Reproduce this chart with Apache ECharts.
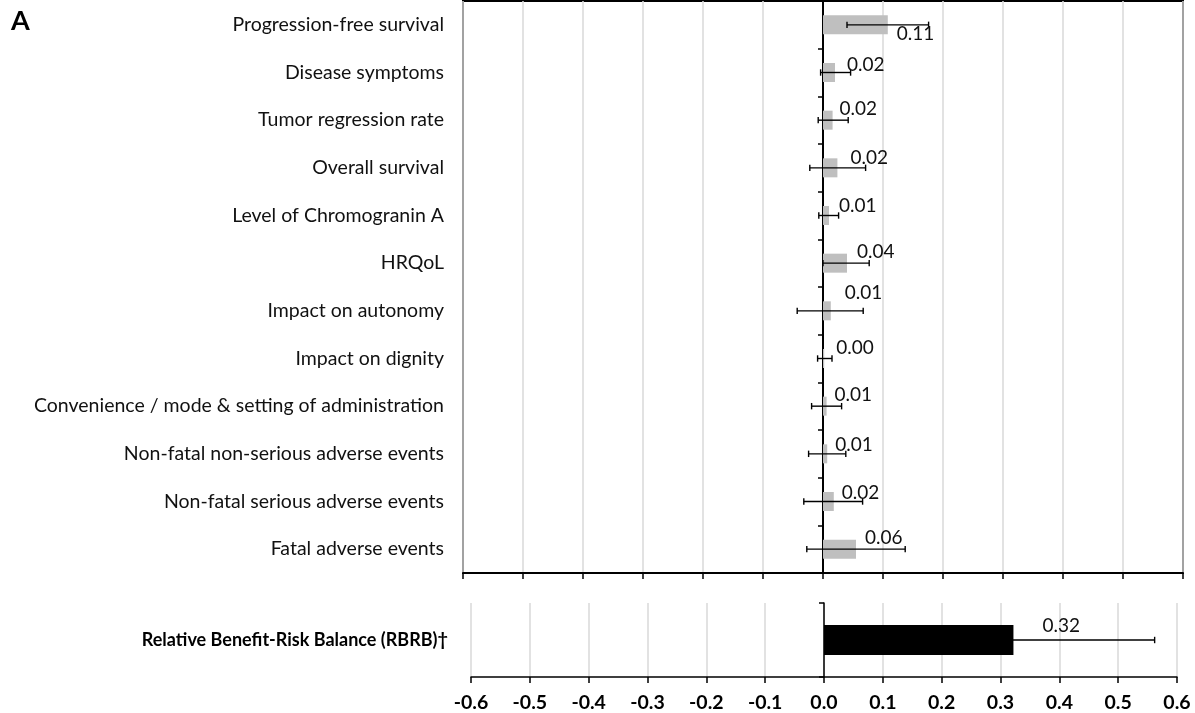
<!DOCTYPE html>
<html>
<head>
<meta charset="utf-8">
<script src="https://cdn.jsdelivr.net/npm/echarts@6/dist/echarts.min.js"></script>
<style>
html,body{margin:0;padding:0;background:#fff;}
#chart{width:1195px;height:713px;}
</style>
</head>
<body>
<div id="chart"></div>
<script>
// ---- data ----
var categories = [
  'Progression-free survival',
  'Disease symptoms',
  'Tumor regression rate',
  'Overall survival',
  'Level of Chromogranin A',
  'HRQoL',
  'Impact on autonomy',
  'Impact on dignity',
  'Convenience / mode & setting of administration',
  'Non-fatal non-serious adverse events',
  'Non-fatal serious adverse events',
  'Fatal adverse events'
];
var barValues = [0.108, 0.020, 0.016, 0.024, 0.010, 0.040, 0.013, 0.002, 0.006, 0.007, 0.018, 0.055];
var errLow    = [0.040, -0.004, -0.008, -0.022, -0.007, 0.000, -0.043, -0.009, -0.019, -0.024, -0.032, -0.027];
var errHigh   = [0.176, 0.046, 0.042, 0.071, 0.026, 0.077, 0.067, 0.015, 0.031, 0.038, 0.066, 0.137];
var valueLabels = ['0.11','0.02','0.02','0.02','0.01','0.04','0.01','0.00','0.01','0.01','0.02','0.06'];

var rbrbCategory = ['Relative Benefit-Risk Balance (RBRB)\u2020'];
var rbrbValue = [0.322];
var rbrbLow = [0.080];
var rbrbHigh = [0.562];
var rbrbLabel = ['0.32'];

var xMin = -0.6, xMax = 0.6, xStep = 0.1;

// ---- layout nudges for value labels (pixels, relative to bar end / bar centre) ----
var labelDx = [9, 12, 7, 13, 10, 10, 14, 12, 8, 8, 8, 9];
var labelDy = [9, -8, -11, -10, -10, -11, -18, -11, -11, -9, -9, -11];
var rbrbLabelDx = 29, rbrbLabelDy = -14;

var FONT = 'Lato';

function errorBarRender(params, api) {
  var y = api.value(2);
  var p1 = api.coord([api.value(0), y]);
  var p2 = api.coord([api.value(1), y]);
  var cap = 3.2;
  var st = {stroke: '#000', lineWidth: 1.4};
  return {
    type: 'group',
    children: [
      {type: 'line', shape: {x1: p1[0], y1: p1[1], x2: p2[0], y2: p2[1]}, style: st},
      {type: 'line', shape: {x1: p1[0], y1: p1[1] - cap, x2: p1[0], y2: p1[1] + cap}, style: st},
      {type: 'line', shape: {x1: p2[0], y1: p2[1] - cap, x2: p2[0], y2: p2[1] + cap}, style: st}
    ]
  };
}

var chart = echarts.init(document.getElementById('chart'), null, {renderer: 'canvas'});

var option = {
  animation: false,
  backgroundColor: '#fff',
  textStyle: {fontFamily: FONT},
  graphic: [{
    type: 'text', left: 11, top: 8,
    style: {text: 'A', font: 'bold 27px ' + FONT, fill: '#000'}
  }],
  grid: [
    {left: 463, right: 12, top: 1, bottom: 140, show: true, borderColor: '#000', borderWidth: 2, backgroundColor: 'rgba(0,0,0,0)'},
    {left: 471, right: 18, top: 603, bottom: 35}
  ],
  xAxis: [
    {
      gridIndex: 0, type: 'value', min: xMin, max: xMax, interval: xStep,
      axisLabel: {show: false},
      axisTick: {show: true, length: 6, lineStyle: {color: '#000', width: 1.5}},
      axisLine: {show: true, onZero: false, lineStyle: {color: '#000', width: 2}},
      splitLine: {show: true, lineStyle: {color: '#d9d9d9', width: 1.5}}
    },
    {
      gridIndex: 1, type: 'value', min: xMin, max: xMax, interval: xStep,
      axisLabel: {show: true, formatter: function (v) { return v.toFixed(1); }, fontWeight: 'bold', fontSize: 19.5, color: '#000', margin: 16, fontFamily: FONT},
      axisTick: {show: true, length: 6, lineStyle: {color: '#000', width: 1.5}},
      axisLine: {show: true, onZero: false, lineStyle: {color: '#000', width: 1.5}},
      splitLine: {show: true, lineStyle: {color: '#d9d9d9', width: 1.5}}
    }
  ],
  yAxis: [
    {
      gridIndex: 0, type: 'category', data: categories, inverse: true, position: 'left',
      axisLine: {show: false, onZero: false}, axisTick: {show: false}, splitLine: {show: false},
      axisLabel: {fontSize: 19.5, color: '#111', margin: 19, fontFamily: FONT}
    },
    {
      gridIndex: 0, type: 'category', data: categories, inverse: true, position: 'left',
      axisLine: {show: true, onZero: true, lineStyle: {color: '#000', width: 2}},
      axisTick: {show: true, length: 5, lineStyle: {color: '#000', width: 1.5}},
      axisLabel: {show: false}, splitLine: {show: false}
    },
    {
      gridIndex: 1, type: 'category', data: rbrbCategory, inverse: true, position: 'left',
      axisLine: {show: false, onZero: false}, axisTick: {show: false}, splitLine: {show: false},
      axisLabel: {fontSize: 18, fontWeight: 'bold', color: '#000', margin: 23, fontFamily: FONT}
    },
    {
      gridIndex: 1, type: 'category', data: rbrbCategory, inverse: true, position: 'left',
      axisLine: {show: true, onZero: true, lineStyle: {color: '#000', width: 1.5}},
      axisTick: {show: true, length: 5, lineStyle: {color: '#000', width: 1.5}},
      axisLabel: {show: false}, splitLine: {show: false}
    }
  ],
  series: [
    {
      type: 'bar', xAxisIndex: 0, yAxisIndex: 0, barWidth: 19, z: 2,
      itemStyle: {color: '#bfbfbf'},
      data: barValues
    },
    {
      type: 'custom', xAxisIndex: 0, yAxisIndex: 0, z: 4,
      renderItem: errorBarRender,
      encode: {x: [0, 1], y: 2},
      data: categories.map(function (c, i) { return [errLow[i], errHigh[i], i]; })
    },
    {
      type: 'custom', xAxisIndex: 0, yAxisIndex: 0, z: 5,
      renderItem: function (params, api) {
        var i = params.dataIndex;
        var p = api.coord([api.value(0), api.value(1)]);
        return {
          type: 'text',
          style: {
            x: p[0] + labelDx[i], y: p[1] + labelDy[i],
            text: valueLabels[i], fill: '#111',
            font: '19px ' + FONT, align: 'left', verticalAlign: 'middle'
          }
        };
      },
      encode: {x: 0, y: 1},
      data: categories.map(function (c, i) { return [barValues[i], i]; })
    },
    {
      type: 'bar', xAxisIndex: 1, yAxisIndex: 2, barWidth: 30, z: 2,
      itemStyle: {color: '#000'},
      data: rbrbValue
    },
    {
      type: 'custom', xAxisIndex: 1, yAxisIndex: 2, z: 4,
      renderItem: errorBarRender,
      encode: {x: [0, 1], y: 2},
      data: rbrbValue.map(function (v, i) { return [rbrbLow[i], rbrbHigh[i], i]; })
    },
    {
      type: 'custom', xAxisIndex: 1, yAxisIndex: 2, z: 5,
      renderItem: function (params, api) {
        var i = params.dataIndex;
        var p = api.coord([api.value(0), api.value(1)]);
        return {
          type: 'text',
          style: {
            x: p[0] + rbrbLabelDx, y: p[1] + rbrbLabelDy,
            text: rbrbLabel[i], fill: '#111',
            font: '19px ' + FONT, align: 'left', verticalAlign: 'middle'
          }
        };
      },
      encode: {x: 0, y: 1},
      data: rbrbValue.map(function (v, i) { return [v, i]; })
    }
  ]
};
chart.setOption(option);
</script>
</body>
</html>
